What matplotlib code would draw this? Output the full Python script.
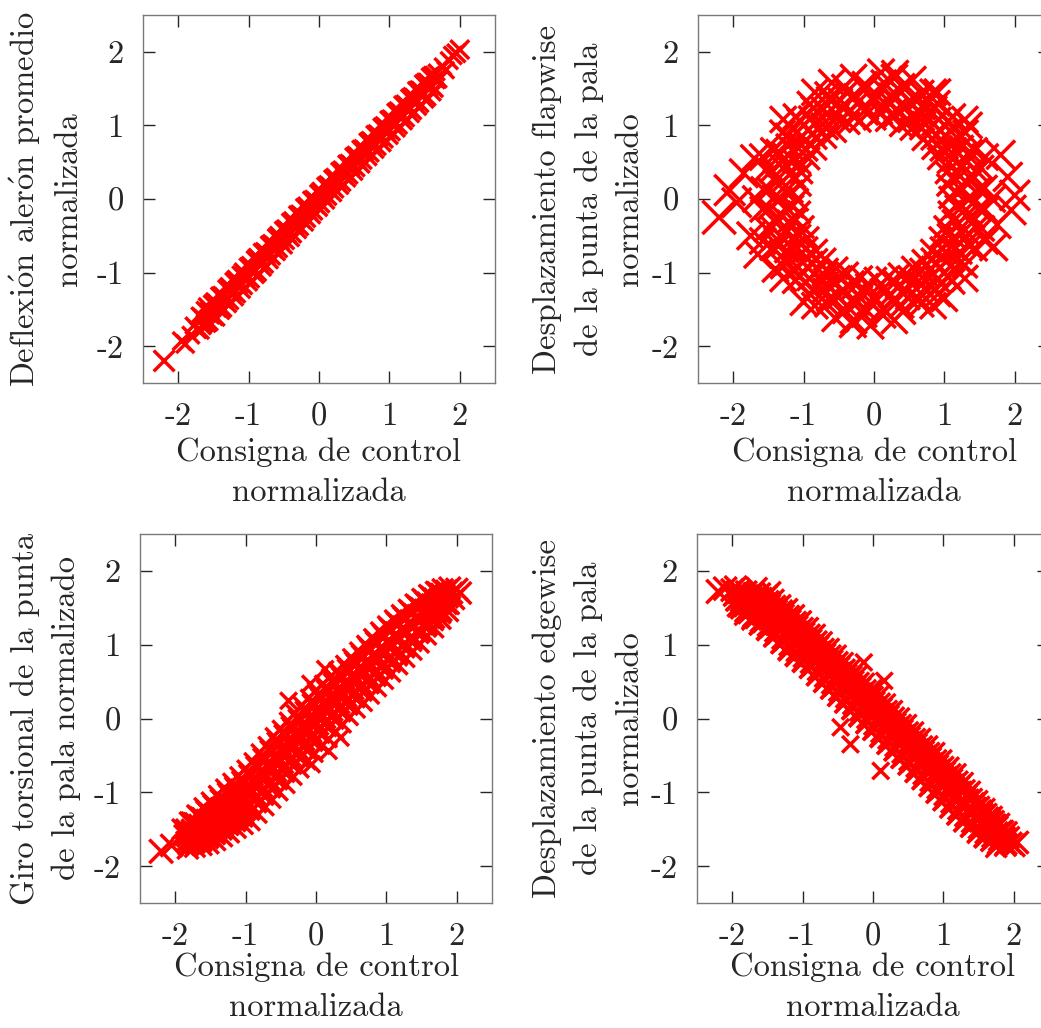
import numpy as np
import matplotlib
matplotlib.use("Agg")
import matplotlib.pyplot as plt

plt.rcParams["font.family"] = ["cmr10", "DejaVu Serif"]
plt.rcParams["mathtext.fontset"] = "cm"
plt.rcParams["axes.unicode_minus"] = False

# ---- axis ticks -------------------------------------------------------------
tick_values = [-2, -1, 0, 1, 2]
tick_labels = ["-2", "-1", "0", "1", "2"]

x_label = "Consigna de control\nnormalizada"
y_labels = [
    "Deflexi$\\acute{\\rm o}$n aler$\\acute{\\rm o}$n promedio\nnormalizada",
    "Desplazamiento flapwise\nde la punta de la pala\nnormalizado",
    "Giro torsional de la punta\nde la pala normalizado",
    "Desplazamiento edgewise\nde la punta de la pala\nnormalizado",
]

# ---- samples: (control, response) ------------------------------------------
aileron_pts = [
    (-2.20, -2.20), (-1.95, -1.93), (-1.90, -1.97), (-1.82, -1.85), (-1.78, -1.72),
    (-1.72, -1.78), (2.00, 2.03), (1.95, 1.98), (1.90, 1.95), (1.85, 1.88),
    (1.80, 1.75), (1.76, 1.80),
    (-1.70, -1.58), (-1.68, -1.79), (-1.65, -1.73), (-1.63, -1.50), (-1.60, -1.45),
    (-1.58, -1.70), (-1.55, -1.68), (-1.53, -1.41), (-1.50, -1.38), (-1.48, -1.61),
    (-1.45, -1.62), (-1.43, -1.30), (-1.40, -1.29), (-1.38, -1.53), (-1.35, -1.50),
    (-1.33, -1.20), (-1.30, -1.17), (-1.28, -1.44), (-1.25, -1.40), (-1.23, -1.10),
    (-1.20, -1.07), (-1.18, -1.35), (-1.15, -1.31), (-1.13, -1.01), (-1.10, -0.97),
    (-1.08, -1.25), (-1.05, -1.20), (-1.03, -0.90), (-1.00, -0.88), (-0.98, -1.15),
    (-0.95, -1.11), (-0.93, -0.80), (-0.90, -0.77), (-0.88, -1.05), (-0.85, -1.02),
    (-0.83, -0.70), (-0.80, -0.69), (-0.78, -0.95), (-0.75, -0.91), (-0.73, -0.60),
    (-0.70, -0.58), (-0.68, -0.85), (-0.65, -0.80), (-0.63, -0.50), (-0.60, -0.47),
    (-0.58, -0.74), (-0.55, -0.70), (-0.53, -0.40), (-0.50, -0.38), (-0.48, -0.65),
    (-0.45, -0.59), (-0.43, -0.29), (-0.40, -0.27), (-0.38, -0.55), (-0.35, -0.50),
    (-0.33, -0.19), (-0.30, -0.18), (-0.28, -0.44), (-0.25, -0.40), (-0.23, -0.09),
    (-0.20, -0.07), (-0.18, -0.34), (-0.15, -0.29), (-0.13, 0.01), (-0.10, 0.02),
    (-0.08, -0.24), (-0.05, -0.19), (-0.03, 0.10), (0.00, 0.13), (0.02, -0.14),
    (0.05, -0.09), (0.07, 0.20), (0.10, 0.22), (0.12, -0.04), (0.15, 0.01),
    (0.17, 0.30), (0.20, 0.32), (0.22, 0.06), (0.25, 0.11), (0.27, 0.40),
    (0.30, 0.42), (0.32, 0.16), (0.35, 0.20), (0.37, 0.50), (0.40, 0.51),
    (0.42, 0.26), (0.45, 0.30), (0.47, 0.60), (0.50, 0.62), (0.52, 0.35),
    (0.55, 0.40), (0.57, 0.70), (0.60, 0.71), (0.62, 0.45), (0.65, 0.50),
    (0.67, 0.80), (0.70, 0.82), (0.72, 0.55), (0.75, 0.60), (0.77, 0.90),
    (0.80, 0.91), (0.82, 0.65), (0.85, 0.69), (0.87, 1.00), (0.90, 1.02),
    (0.92, 0.74), (0.95, 0.79), (0.97, 1.10), (1.00, 1.11), (1.02, 0.84),
    (1.05, 0.89), (1.07, 1.20), (1.10, 1.22), (1.12, 0.94), (1.15, 0.98),
    (1.17, 1.30), (1.20, 1.31), (1.22, 1.04), (1.25, 1.08), (1.27, 1.39),
    (1.30, 1.41), (1.32, 1.14), (1.35, 1.18), (1.37, 1.49), (1.40, 1.50),
    (1.42, 1.24), (1.45, 1.28), (1.47, 1.58), (1.50, 1.60), (1.52, 1.34),
    (1.55, 1.37), (1.57, 1.67), (1.60, 1.69), (1.62, 1.44), (1.65, 1.49),
    (1.67, 1.72), (1.70, 1.62),
    (-1.65, -1.62), (-1.55, -1.57), (-1.45, -1.43), (-1.35, -1.38), (-1.25, -1.22),
    (-1.15, -1.17), (-1.05, -1.03), (-0.95, -0.98), (-0.85, -0.84), (-0.75, -0.77),
    (-0.65, -0.62), (-0.55, -0.57), (-0.45, -0.43), (-0.35, -0.36), (-0.25, -0.22),
    (-0.15, -0.16), (-0.05, -0.03), (0.05, 0.04), (0.15, 0.17), (0.25, 0.24),
    (0.35, 0.37), (0.45, 0.44), (0.55, 0.57), (0.65, 0.64), (0.75, 0.77),
    (0.85, 0.84), (0.95, 0.97), (1.05, 1.04), (1.15, 1.17), (1.25, 1.24),
    (1.35, 1.37), (1.45, 1.44), (1.55, 1.57), (1.65, 1.63),
    (-1.675, -1.60), (-1.575, -1.51), (-1.475, -1.40), (-1.375, -1.31), (-1.275, -1.20),
    (-1.175, -1.11), (-1.075, -1.00), (-0.975, -0.91), (-0.875, -0.80), (-0.775, -0.71),
    (-0.675, -0.60), (-0.575, -0.51), (-0.475, -0.40), (-0.375, -0.31), (-0.275, -0.20),
    (-0.175, -0.11), (-0.075, 0.00), (0.025, 0.09), (0.125, 0.20), (0.225, 0.29),
    (0.325, 0.40), (0.425, 0.49), (0.525, 0.60), (0.625, 0.69), (0.725, 0.80),
    (0.825, 0.89), (0.925, 1.00), (1.025, 1.09), (1.125, 1.20), (1.225, 1.29),
    (1.325, 1.40), (1.425, 1.49), (1.525, 1.60), (1.625, 1.69),
    (-1.625, -1.70), (-1.525, -1.59), (-1.425, -1.50), (-1.325, -1.39), (-1.225, -1.30),
    (-1.125, -1.19), (-1.025, -1.10), (-0.925, -0.99), (-0.825, -0.90), (-0.725, -0.79),
    (-0.625, -0.70), (-0.525, -0.59), (-0.425, -0.50), (-0.325, -0.39), (-0.225, -0.30),
    (-0.125, -0.19), (-0.025, -0.10), (0.075, 0.01), (0.175, 0.10), (0.275, 0.21),
    (0.375, 0.30), (0.475, 0.41), (0.575, 0.50), (0.675, 0.61), (0.775, 0.70),
    (0.875, 0.81), (0.975, 0.90), (1.075, 1.01), (1.175, 1.10), (1.275, 1.21),
    (1.375, 1.30), (1.475, 1.41), (1.575, 1.50), (1.675, 1.61),
]

flapwise_pts = [
    # inner part of the ring
    (1.08, 0.02), (1.05, 0.19), (1.03, 0.36), (0.92, 0.55), (0.84, 0.69),
    (0.70, 0.81), (0.53, 0.95), (0.38, 1.00), (0.18, 1.07), (0.01, 1.09),
    (-0.20, 1.06), (-0.36, 1.03), (-0.55, 0.92), (-0.69, 0.84), (-0.83, 0.68),
    (-0.93, 0.55), (-1.03, 0.36), (-1.05, 0.19), (-1.09, -0.01), (-1.06, -0.18),
    (-1.01, -0.38), (-0.94, -0.53), (-0.82, -0.70), (-0.70, -0.82), (-0.53, -0.94),
    (-0.38, -1.01), (-0.18, -1.06), (0.02, -1.08), (0.19, -1.07), (0.36, -1.02),
    (0.55, -0.93), (0.70, -0.84), (0.82, -0.70), (0.94, -0.53), (1.01, -0.38),
    (1.07, -0.18),
    (1.16, 0.10), (1.13, 0.30), (1.06, 0.50), (0.96, 0.67), (0.83, 0.82),
    (0.67, 0.96), (0.50, 1.06), (0.30, 1.13), (0.10, 1.17), (-0.10, 1.16),
    (-0.30, 1.13), (-0.49, 1.06), (-0.67, 0.96), (-0.83, 0.83), (-0.96, 0.67),
    (-1.06, 0.49), (-1.13, 0.30), (-1.17, 0.10), (-1.16, -0.10), (-1.13, -0.30),
    (-1.06, -0.50), (-0.96, -0.67), (-0.82, -0.83), (-0.67, -0.96), (-0.50, -1.06),
    (-0.30, -1.13), (-0.10, -1.17), (0.10, -1.16), (0.30, -1.13), (0.50, -1.06),
    (0.67, -0.96), (0.83, -0.82), (0.96, -0.67), (1.06, -0.49), (1.13, -0.30),
    (1.17, -0.10),
    (1.24, 0.12), (1.22, 0.31), (1.12, 0.54), (1.03, 0.70), (0.89, 0.87),
    (0.71, 1.03), (0.54, 1.12), (0.31, 1.21), (0.12, 1.26), (-0.10, 1.23),
    (-0.33, 1.20), (-0.52, 1.14), (-0.73, 1.01), (-0.87, 0.89), (-1.03, 0.73),
    (-1.14, 0.52), (-1.20, 0.33), (-1.26, 0.10), (-1.24, -0.12), (-1.21, -0.31),
    (-1.14, -0.52), (-1.02, -0.73), (-0.89, -0.87), (-0.71, -1.03), (-0.54, -1.14),
    (-0.31, -1.22), (-0.12, -1.25), (0.11, -1.24), (0.33, -1.20), (0.52, -1.14),
    (0.73, -1.02), (0.88, -0.89), (1.02, -0.72), (1.14, -0.52), (1.20, -0.33),
    (1.25, -0.10),
    (1.33, 0.00), (1.31, 0.23), (1.25, 0.46), (1.15, 0.67), (1.02, 0.85),
    (0.85, 1.02), (0.67, 1.15), (0.46, 1.25), (0.23, 1.31), (0.00, 1.33),
    (-0.23, 1.31), (-0.46, 1.25), (-0.67, 1.15), (-0.85, 1.02), (-1.02, 0.85),
    (-1.15, 0.67), (-1.25, 0.46), (-1.31, 0.23), (-1.33, 0.00), (-1.31, -0.23),
    (-1.25, -0.46), (-1.15, -0.67), (-1.02, -0.85), (-0.85, -1.02), (-0.67, -1.15),
    (-0.46, -1.25), (-0.23, -1.31), (0.00, -1.33), (0.23, -1.31), (0.46, -1.25),
    (0.67, -1.15), (0.85, -1.02), (1.02, -0.85), (1.15, -0.67), (1.25, -0.46),
    (1.31, -0.23),
    # outer part of the ring
    (1.43, -0.03), (1.39, 0.26), (1.32, 0.50), (1.24, 0.70), (1.08, 0.93),
    (0.92, 1.08), (0.70, 1.24), (0.50, 1.33), (0.24, 1.41), (0.03, 1.42),
    (-0.26, 1.40), (-0.48, 1.34), (-0.72, 1.22), (-0.90, 1.10), (-1.10, 0.90),
    (-1.22, 0.72), (-1.34, 0.47), (-1.40, 0.24), (-1.42, 0.02), (-1.39, -0.26),
    (-1.33, -0.50), (-1.24, -0.70), (-1.08, -0.93), (-0.92, -1.08), (-0.70, -1.24),
    (-0.50, -1.33), (-0.24, -1.41), (-0.02, -1.43), (0.26, -1.39), (0.48, -1.34),
    (0.72, -1.22), (0.90, -1.10), (1.10, -0.90), (1.22, -0.72), (1.34, -0.47),
    (1.40, -0.24),
    (1.49, 0.13), (1.45, 0.39), (1.36, 0.64), (1.23, 0.86), (1.06, 1.06),
    (0.86, 1.23), (0.64, 1.36), (0.39, 1.45), (0.13, 1.49), (-0.13, 1.49),
    (-0.39, 1.45), (-0.64, 1.36), (-0.86, 1.23), (-1.06, 1.06), (-1.23, 0.86),
    (-1.36, 0.64), (-1.45, 0.39), (-1.49, 0.13), (-1.49, -0.13), (-1.45, -0.39),
    (-1.36, -0.64), (-1.23, -0.86), (-1.06, -1.06), (-0.86, -1.23), (-0.64, -1.36),
    (-0.39, -1.45), (-0.13, -1.49), (0.13, -1.49), (0.39, -1.45), (0.64, -1.36),
    (0.86, -1.23), (1.06, -1.06), (1.23, -0.86), (1.36, -0.64), (1.45, -0.39),
    (1.49, -0.13),
    (1.57, 0.15), (1.52, 0.42), (1.43, 0.66), (1.30, 0.90), (1.12, 1.12),
    (0.90, 1.30), (0.67, 1.44), (0.40, 1.53), (0.14, 1.58), (-0.13, 1.56),
    (-0.42, 1.52), (-0.66, 1.42), (-0.91, 1.29), (-1.11, 1.12), (-1.30, 0.90),
    (-1.43, 0.66), (-1.52, 0.41), (-1.57, 0.13), (-1.58, -0.14), (-1.52, -0.41),
    (-1.44, -0.66), (-1.29, -0.91), (-1.12, -1.11), (-0.90, -1.30), (-0.66, -1.43),
    (-0.41, -1.52), (-0.14, -1.57), (0.13, -1.58), (0.41, -1.53), (0.67, -1.43),
    (0.91, -1.29), (1.11, -1.12), (1.29, -0.90), (1.43, -0.67), (1.53, -0.40),
    (1.57, -0.14),
    (1.68, 0.00), (1.58, 0.57), (1.29, 1.08), (0.84, 1.45), (0.29, 1.65),
    (-0.29, 1.65), (-0.84, 1.45), (-1.29, 1.08), (-1.58, 0.57), (-1.68, 0.00),
    (-1.58, -0.57), (-1.29, -1.08), (-0.84, -1.45), (-0.29, -1.65), (0.29, -1.65),
    (0.84, -1.45), (1.29, -1.08), (1.58, -0.57),
    # scattered edge points
    (-2.20, -0.25), (-2.05, 0.12), (-1.95, -0.05), (-1.85, 0.35), (-1.75, -0.50),
    (-1.70, 0.55), (-1.65, -0.75), (2.00, 0.05), (1.95, -0.15), (1.90, 0.30),
    (1.80, 0.60), (1.75, -0.35), (1.70, -0.65), (0.30, 1.70), (0.10, 1.72),
    (-0.30, -1.70), (-0.05, -1.72), (-0.60, 1.58), (0.90, 1.45), (-1.00, -1.40),
    (1.00, -1.35), (0.55, 1.62), (-0.55, -1.62), (1.35, 1.00), (-1.40, -0.95),
]

torsion_pts = [
    (-2.20, -1.80), (-2.05, -1.72), (2.00, 1.75), (2.05, 1.70),
    (0.13, 0.67), (-0.08, 0.47), (0.18, -0.44), (0.35, -0.26), (-0.06, -0.62),
    (-0.39, 0.24),
    (-1.90, -1.50), (-1.87, -1.58), (-1.84, -1.67), (-1.82, -1.76),
    (-1.80, -1.40), (-1.77, -1.50), (-1.74, -1.62), (-1.72, -1.74),
    (-1.70, -1.30), (-1.67, -1.43), (-1.64, -1.57), (-1.62, -1.72),
    (-1.60, -1.20), (-1.57, -1.36), (-1.54, -1.53), (-1.52, -1.70),
    (-1.50, -1.12), (-1.47, -1.29), (-1.44, -1.47), (-1.42, -1.66),
    (-1.40, -1.03), (-1.37, -1.22), (-1.34, -1.41), (-1.32, -1.61),
    (-1.30, -0.94), (-1.27, -1.14), (-1.24, -1.35), (-1.22, -1.56),
    (-1.20, -0.86), (-1.17, -1.06), (-1.14, -1.29), (-1.12, -1.50),
    (-1.10, -0.77), (-1.07, -0.99), (-1.04, -1.22), (-1.02, -1.45),
    (-1.00, -0.68), (-0.97, -0.91), (-0.94, -1.16), (-0.92, -1.40),
    (-0.90, -0.58), (-0.87, -0.80), (-0.84, -1.05), (-0.82, -1.30),
    (-0.80, -0.46), (-0.77, -0.70), (-0.74, -0.95), (-0.72, -1.20),
    (-0.70, -0.36), (-0.67, -0.60), (-0.64, -0.85), (-0.62, -1.10),
    (-0.60, -0.24), (-0.57, -0.49), (-0.54, -0.74), (-0.52, -1.00),
    (-0.50, -0.14), (-0.47, -0.38), (-0.44, -0.63), (-0.42, -0.90),
    (-0.40, -0.03), (-0.37, -0.27), (-0.34, -0.53), (-0.32, -0.79),
    (-0.30, 0.07), (-0.27, -0.17), (-0.24, -0.43), (-0.22, -0.69),
    (-0.20, 0.18), (-0.17, -0.06), (-0.14, -0.32), (-0.12, -0.58),
    (-0.10, 0.28), (-0.07, 0.04), (-0.04, -0.21), (-0.02, -0.48),
    (0.00, 0.38), (0.03, 0.14), (0.06, -0.11), (0.08, -0.37),
    (0.10, 0.47), (0.13, 0.24), (0.16, -0.02), (0.18, -0.28),
    (0.20, 0.56), (0.23, 0.33), (0.26, 0.08), (0.28, -0.18),
    (0.30, 0.65), (0.33, 0.42), (0.36, 0.18), (0.38, -0.08),
    (0.40, 0.74), (0.43, 0.51), (0.46, 0.27), (0.48, 0.02),
    (0.50, 0.83), (0.53, 0.60), (0.56, 0.37), (0.58, 0.12),
    (0.60, 0.92), (0.63, 0.70), (0.66, 0.46), (0.68, 0.21),
    (0.70, 1.01), (0.73, 0.79), (0.76, 0.56), (0.78, 0.31),
    (0.80, 1.10), (0.83, 0.88), (0.86, 0.65), (0.88, 0.41),
    (0.90, 1.19), (0.93, 0.97), (0.96, 0.75), (0.98, 0.51),
    (1.00, 1.27), (1.03, 1.06), (1.06, 0.84), (1.08, 0.61),
    (1.10, 1.35), (1.13, 1.14), (1.16, 0.93), (1.18, 0.71),
    (1.20, 1.42), (1.23, 1.22), (1.26, 1.02), (1.28, 0.81),
    (1.30, 1.49), (1.33, 1.30), (1.36, 1.11), (1.38, 0.91),
    (1.40, 1.56), (1.43, 1.38), (1.46, 1.20), (1.48, 1.01),
    (1.50, 1.63), (1.53, 1.46), (1.56, 1.29), (1.58, 1.12),
    (1.60, 1.68), (1.63, 1.53), (1.66, 1.38), (1.68, 1.22),
    (1.70, 1.72), (1.73, 1.60), (1.76, 1.47), (1.78, 1.34),
    (1.80, 1.75), (1.83, 1.66), (1.86, 1.55), (1.88, 1.45),
    (1.90, 1.77), (1.93, 1.70), (1.96, 1.62),
    (-1.85, -1.50), (-1.83, -1.60), (-1.81, -1.71),
    (-1.75, -1.41), (-1.73, -1.54), (-1.71, -1.67),
    (-1.65, -1.33), (-1.63, -1.49), (-1.61, -1.64),
    (-1.55, -1.26), (-1.53, -1.43), (-1.51, -1.60),
    (-1.45, -1.18), (-1.43, -1.37), (-1.41, -1.55),
    (-1.35, -1.10), (-1.33, -1.30), (-1.31, -1.49),
    (-1.25, -1.02), (-1.23, -1.23), (-1.21, -1.43),
    (-1.15, -0.94), (-1.13, -1.16), (-1.11, -1.37),
    (-1.05, -0.86), (-1.03, -1.09), (-1.01, -1.31),
    (-0.95, -0.76), (-0.93, -1.00), (-0.91, -1.24),
    (-0.85, -0.65), (-0.83, -0.89), (-0.81, -1.14),
    (-0.75, -0.54), (-0.73, -0.79), (-0.71, -1.03),
    (-0.65, -0.43), (-0.63, -0.68), (-0.61, -0.93),
    (-0.55, -0.33), (-0.53, -0.58), (-0.51, -0.83),
    (-0.45, -0.22), (-0.43, -0.47), (-0.41, -0.72),
    (-0.35, -0.12), (-0.33, -0.37), (-0.31, -0.62),
    (-0.25, -0.01), (-0.23, -0.26), (-0.21, -0.51),
    (-0.15, 0.09), (-0.13, -0.16), (-0.11, -0.41),
    (-0.05, 0.20), (-0.03, -0.05), (-0.01, -0.30),
    (0.05, 0.29), (0.07, 0.05), (0.09, -0.20),
    (0.15, 0.39), (0.17, 0.14), (0.19, -0.10),
    (0.25, 0.48), (0.27, 0.24), (0.29, 0.00),
    (0.35, 0.57), (0.37, 0.33), (0.39, 0.09),
    (0.45, 0.67), (0.47, 0.43), (0.49, 0.19),
    (0.55, 0.76), (0.57, 0.52), (0.59, 0.28),
    (0.65, 0.86), (0.67, 0.62), (0.69, 0.38),
    (0.75, 0.95), (0.77, 0.71), (0.79, 0.48),
    (0.85, 1.04), (0.87, 0.81), (0.89, 0.57),
    (0.95, 1.13), (0.97, 0.90), (0.99, 0.67),
    (1.05, 1.22), (1.07, 0.99), (1.09, 0.77),
    (1.15, 1.30), (1.17, 1.08), (1.19, 0.86),
    (1.25, 1.37), (1.27, 1.17), (1.29, 0.96),
    (1.35, 1.44), (1.37, 1.25), (1.39, 1.06),
    (1.45, 1.52), (1.47, 1.34), (1.49, 1.16),
    (1.55, 1.58), (1.57, 1.42), (1.59, 1.25),
    (1.65, 1.64), (1.67, 1.49), (1.69, 1.35),
    (1.75, 1.69), (1.77, 1.57), (1.79, 1.45),
    (1.85, 1.73), (1.87, 1.64), (1.89, 1.55),
    (-1.775, -1.40), (-1.775, -1.53), (-1.775, -1.66),
    (-1.725, -1.41), (-1.725, -1.55), (-1.725, -1.69),
    (-1.675, -1.32), (-1.675, -1.47), (-1.675, -1.62),
    (-1.625, -1.34), (-1.625, -1.50), (-1.625, -1.67),
    (-1.575, -1.24), (-1.575, -1.41), (-1.575, -1.58),
    (-1.525, -1.27), (-1.525, -1.45), (-1.525, -1.63),
    (-1.475, -1.16), (-1.475, -1.35), (-1.475, -1.53),
    (-1.425, -1.20), (-1.425, -1.39), (-1.425, -1.58),
    (-1.375, -1.08), (-1.375, -1.27), (-1.375, -1.47),
    (-1.325, -1.12), (-1.325, -1.32), (-1.325, -1.52),
    (-1.275, -0.99), (-1.275, -1.20), (-1.275, -1.41),
    (-1.225, -1.04), (-1.225, -1.25), (-1.225, -1.46),
    (-1.175, -0.91), (-1.175, -1.13), (-1.175, -1.35),
    (-1.125, -0.96), (-1.125, -1.18), (-1.125, -1.41),
    (-1.075, -0.83), (-1.075, -1.06), (-1.075, -1.29),
    (-1.025, -0.88), (-1.025, -1.12), (-1.025, -1.35),
    (-0.975, -0.74), (-0.975, -0.98), (-0.975, -1.22),
    (-0.925, -0.78), (-0.925, -1.02), (-0.925, -1.26),
    (-0.875, -0.63), (-0.875, -0.87), (-0.875, -1.11),
    (-0.825, -0.67), (-0.825, -0.92), (-0.825, -1.16),
    (-0.775, -0.52), (-0.775, -0.76), (-0.775, -1.01),
    (-0.725, -0.56), (-0.725, -0.81), (-0.725, -1.06),
    (-0.675, -0.41), (-0.675, -0.66), (-0.675, -0.91),
    (-0.625, -0.46), (-0.625, -0.71), (-0.625, -0.96),
    (-0.575, -0.30), (-0.575, -0.55), (-0.575, -0.81),
    (-0.525, -0.35), (-0.525, -0.60), (-0.525, -0.85),
    (-0.475, -0.20), (-0.475, -0.45), (-0.475, -0.70),
    (-0.425, -0.24), (-0.425, -0.50), (-0.425, -0.75),
    (-0.375, -0.09), (-0.375, -0.34), (-0.375, -0.59),
    (-0.325, -0.14), (-0.325, -0.39), (-0.325, -0.64),
    (-0.275, 0.01), (-0.275, -0.24), (-0.275, -0.49),
    (-0.225, -0.03), (-0.225, -0.29), (-0.225, -0.54),
    (-0.175, 0.12), (-0.175, -0.13), (-0.175, -0.39),
    (-0.125, 0.07), (-0.125, -0.18), (-0.125, -0.43),
    (-0.075, 0.22), (-0.075, -0.03), (-0.075, -0.28),
    (-0.025, 0.17), (-0.025, -0.08), (-0.025, -0.33),
    (0.025, 0.32), (0.025, 0.07), (0.025, -0.17),
    (0.075, 0.27), (0.075, 0.02), (0.075, -0.22),
    (0.125, 0.41), (0.125, 0.17), (0.125, -0.08),
    (0.175, 0.36), (0.175, 0.12), (0.175, -0.13),
    (0.225, 0.50), (0.225, 0.26), (0.225, 0.02),
    (0.275, 0.45), (0.275, 0.21), (0.275, -0.03),
    (0.325, 0.60), (0.325, 0.36), (0.325, 0.12),
    (0.375, 0.55), (0.375, 0.31), (0.375, 0.07),
    (0.425, 0.69), (0.425, 0.45), (0.425, 0.21),
    (0.475, 0.64), (0.475, 0.40), (0.475, 0.16),
    (0.525, 0.79), (0.525, 0.55), (0.525, 0.31),
    (0.575, 0.74), (0.575, 0.50), (0.575, 0.26),
    (0.625, 0.88), (0.625, 0.64), (0.625, 0.40),
    (0.675, 0.83), (0.675, 0.59), (0.675, 0.35),
    (0.725, 0.98), (0.725, 0.74), (0.725, 0.50),
    (0.775, 0.93), (0.775, 0.69), (0.775, 0.45),
    (0.825, 1.06), (0.825, 0.83), (0.825, 0.60),
    (0.875, 1.02), (0.875, 0.78), (0.875, 0.55),
    (0.925, 1.16), (0.925, 0.93), (0.925, 0.69),
    (0.975, 1.11), (0.975, 0.88), (0.975, 0.65),
    (1.025, 1.24), (1.025, 1.02), (1.025, 0.79),
    (1.075, 1.20), (1.075, 0.97), (1.075, 0.74),
    (1.125, 1.32), (1.125, 1.10), (1.125, 0.88),
    (1.175, 1.28), (1.175, 1.06), (1.175, 0.83),
    (1.225, 1.39), (1.225, 1.19), (1.225, 0.98),
    (1.275, 1.35), (1.275, 1.15), (1.275, 0.94),
    (1.325, 1.47), (1.325, 1.27), (1.325, 1.07),
    (1.375, 1.43), (1.375, 1.23), (1.375, 1.03),
    (1.425, 1.54), (1.425, 1.35), (1.425, 1.17),
    (1.475, 1.51), (1.475, 1.32), (1.475, 1.14),
    (1.525, 1.61), (1.525, 1.43), (1.525, 1.26),
    (1.575, 1.58), (1.575, 1.40), (1.575, 1.23),
    (1.625, 1.66), (1.625, 1.50), (1.625, 1.35),
    (1.675, 1.63), (1.675, 1.48), (1.675, 1.32),
    (1.725, 1.71), (1.725, 1.57), (1.725, 1.44),
    (1.775, 1.69), (1.775, 1.56), (1.775, 1.42),
]

edgewise_pts = [
    (-2.20, 1.72), (-2.10, 1.76), (-1.95, 1.78), (-1.65, 1.77), (-1.45, 1.72),
    (2.00, -1.72), (2.05, -1.68), (1.75, -1.74),
    (0.16, 0.51), (-0.13, 0.76), (-0.32, -0.35), (0.11, -0.71), (-0.46, -0.12),
    (-2.00, 1.74), (-1.97, 1.67), (-1.94, 1.60), (-1.92, 1.52),
    (-1.90, 1.73), (-1.87, 1.63), (-1.84, 1.53), (-1.82, 1.44),
    (-1.80, 1.72), (-1.77, 1.59), (-1.74, 1.46), (-1.72, 1.35),
    (-1.70, 1.70), (-1.67, 1.55), (-1.64, 1.41), (-1.62, 1.26),
    (-1.60, 1.70), (-1.57, 1.52), (-1.54, 1.35), (-1.52, 1.18),
    (-1.50, 1.67), (-1.47, 1.48), (-1.44, 1.29), (-1.42, 1.10),
    (-1.40, 1.62), (-1.37, 1.41), (-1.34, 1.21), (-1.32, 1.00),
    (-1.30, 1.55), (-1.27, 1.34), (-1.24, 1.12), (-1.22, 0.90),
    (-1.20, 1.50), (-1.17, 1.27), (-1.14, 1.04), (-1.12, 0.82),
    (-1.10, 1.42), (-1.07, 1.19), (-1.04, 0.96), (-1.02, 0.74),
    (-1.00, 1.34), (-0.97, 1.11), (-0.94, 0.88), (-0.92, 0.66),
    (-0.90, 1.25), (-0.87, 1.02), (-0.84, 0.79), (-0.82, 0.56),
    (-0.80, 1.16), (-0.77, 0.93), (-0.74, 0.70), (-0.72, 0.47),
    (-0.70, 1.06), (-0.67, 0.83), (-0.64, 0.60), (-0.62, 0.38),
    (-0.60, 0.97), (-0.57, 0.74), (-0.54, 0.51), (-0.52, 0.28),
    (-0.50, 0.88), (-0.47, 0.65), (-0.44, 0.42), (-0.42, 0.19),
    (-0.40, 0.78), (-0.37, 0.55), (-0.34, 0.32), (-0.32, 0.10),
    (-0.30, 0.69), (-0.27, 0.46), (-0.24, 0.23), (-0.22, 0.00),
    (-0.20, 0.60), (-0.17, 0.37), (-0.14, 0.14), (-0.12, -0.09),
    (-0.10, 0.50), (-0.07, 0.28), (-0.04, 0.05), (-0.02, -0.18),
    (0.00, 0.41), (0.03, 0.18), (0.06, -0.05), (0.08, -0.28),
    (0.10, 0.32), (0.13, 0.09), (0.16, -0.14), (0.18, -0.37),
    (0.20, 0.22), (0.23, -0.01), (0.26, -0.24), (0.28, -0.46),
    (0.30, 0.13), (0.33, -0.10), (0.36, -0.33), (0.38, -0.56),
    (0.40, 0.03), (0.43, -0.20), (0.46, -0.43), (0.48, -0.65),
    (0.50, -0.06), (0.53, -0.29), (0.56, -0.52), (0.58, -0.75),
    (0.60, -0.16), (0.63, -0.39), (0.66, -0.62), (0.68, -0.84),
    (0.70, -0.25), (0.73, -0.48), (0.76, -0.71), (0.78, -0.94),
    (0.80, -0.35), (0.83, -0.58), (0.86, -0.81), (0.88, -1.03),
    (0.90, -0.44), (0.93, -0.67), (0.96, -0.90), (0.98, -1.13),
    (1.00, -0.54), (1.03, -0.77), (1.06, -1.00), (1.08, -1.22),
    (1.10, -0.64), (1.13, -0.86), (1.16, -1.09), (1.18, -1.32),
    (1.20, -0.73), (1.23, -0.96), (1.26, -1.19), (1.28, -1.41),
    (1.30, -0.85), (1.33, -1.06), (1.36, -1.27), (1.38, -1.48),
    (1.40, -0.97), (1.43, -1.16), (1.46, -1.36), (1.48, -1.55),
    (1.50, -1.10), (1.53, -1.27), (1.56, -1.45), (1.58, -1.62),
    (1.60, -1.21), (1.63, -1.36), (1.66, -1.51), (1.68, -1.66),
    (1.70, -1.32), (1.73, -1.44), (1.76, -1.57), (1.78, -1.69),
    (1.80, -1.42), (1.83, -1.52), (1.86, -1.62), (1.88, -1.72),
    (1.90, -1.54), (1.93, -1.61), (1.96, -1.69),
    (-1.95, 1.69), (-1.93, 1.61), (-1.91, 1.52),
    (-1.85, 1.66), (-1.83, 1.56), (-1.81, 1.45),
    (-1.75, 1.64), (-1.73, 1.51), (-1.71, 1.37),
    (-1.65, 1.62), (-1.63, 1.46), (-1.61, 1.30),
    (-1.55, 1.59), (-1.53, 1.42), (-1.51, 1.24),
    (-1.45, 1.55), (-1.43, 1.35), (-1.41, 1.16),
    (-1.35, 1.48), (-1.33, 1.27), (-1.31, 1.06),
    (-1.25, 1.42), (-1.23, 1.20), (-1.21, 0.97),
    (-1.15, 1.35), (-1.13, 1.12), (-1.11, 0.89),
    (-1.05, 1.27), (-1.03, 1.04), (-1.01, 0.81),
    (-0.95, 1.18), (-0.93, 0.95), (-0.91, 0.73),
    (-0.85, 1.09), (-0.83, 0.86), (-0.81, 0.63),
    (-0.75, 1.00), (-0.73, 0.77), (-0.71, 0.54),
    (-0.65, 0.90), (-0.63, 0.68), (-0.61, 0.45),
    (-0.55, 0.81), (-0.53, 0.58), (-0.51, 0.35),
    (-0.45, 0.72), (-0.43, 0.49), (-0.41, 0.26),
    (-0.35, 0.62), (-0.33, 0.40), (-0.31, 0.17),
    (-0.25, 0.53), (-0.23, 0.30), (-0.21, 0.08),
    (-0.15, 0.44), (-0.13, 0.21), (-0.11, -0.02),
    (-0.05, 0.35), (-0.03, 0.12), (-0.01, -0.11),
    (0.05, 0.25), (0.07, 0.02), (0.09, -0.21),
    (0.15, 0.16), (0.17, -0.07), (0.19, -0.30),
    (0.25, 0.06), (0.27, -0.17), (0.29, -0.40),
    (0.35, -0.04), (0.37, -0.26), (0.39, -0.49),
    (0.45, -0.13), (0.47, -0.36), (0.49, -0.59),
    (0.55, -0.23), (0.57, -0.45), (0.59, -0.68),
    (0.65, -0.32), (0.67, -0.55), (0.69, -0.78),
    (0.75, -0.42), (0.77, -0.64), (0.79, -0.87),
    (0.85, -0.51), (0.87, -0.74), (0.89, -0.97),
    (0.95, -0.61), (0.97, -0.83), (0.99, -1.06),
    (1.05, -0.70), (1.07, -0.93), (1.09, -1.16),
    (1.15, -0.80), (1.17, -1.02), (1.19, -1.25),
    (1.25, -0.90), (1.27, -1.12), (1.29, -1.34),
    (1.35, -1.02), (1.37, -1.22), (1.39, -1.42),
    (1.45, -1.13), (1.47, -1.31), (1.49, -1.50),
    (1.55, -1.23), (1.57, -1.40), (1.59, -1.56),
    (1.65, -1.33), (1.67, -1.47), (1.69, -1.61),
    (1.75, -1.43), (1.77, -1.54), (1.79, -1.65),
    (1.85, -1.52), (1.87, -1.61), (1.89, -1.70),
    (-1.875, 1.69), (-1.875, 1.59), (-1.875, 1.49),
    (-1.825, 1.63), (-1.825, 1.52), (-1.825, 1.40),
    (-1.775, 1.67), (-1.775, 1.54), (-1.775, 1.42),
    (-1.725, 1.60), (-1.725, 1.47), (-1.725, 1.33),
    (-1.675, 1.65), (-1.675, 1.50), (-1.675, 1.35),
    (-1.625, 1.58), (-1.625, 1.42), (-1.625, 1.26),
    (-1.575, 1.64), (-1.575, 1.46), (-1.575, 1.29),
    (-1.525, 1.55), (-1.525, 1.37), (-1.525, 1.19),
    (-1.475, 1.60), (-1.475, 1.41), (-1.475, 1.22),
    (-1.425, 1.49), (-1.425, 1.29), (-1.425, 1.09),
    (-1.375, 1.54), (-1.375, 1.33), (-1.375, 1.13),
    (-1.325, 1.42), (-1.325, 1.21), (-1.325, 1.00),
    (-1.275, 1.48), (-1.275, 1.26), (-1.275, 1.04),
    (-1.225, 1.36), (-1.225, 1.13), (-1.225, 0.91),
    (-1.175, 1.41), (-1.175, 1.19), (-1.175, 0.96),
    (-1.125, 1.28), (-1.125, 1.05), (-1.125, 0.83),
    (-1.075, 1.33), (-1.075, 1.11), (-1.075, 0.88),
    (-1.025, 1.20), (-1.025, 0.97), (-1.025, 0.75),
    (-0.975, 1.25), (-0.975, 1.02), (-0.975, 0.80),
    (-0.925, 1.11), (-0.925, 0.88), (-0.925, 0.66),
    (-0.875, 1.16), (-0.875, 0.93), (-0.875, 0.70),
    (-0.825, 1.02), (-0.825, 0.79), (-0.825, 0.56),
    (-0.775, 1.07), (-0.775, 0.84), (-0.775, 0.61),
    (-0.725, 0.93), (-0.725, 0.70), (-0.725, 0.47),
    (-0.675, 0.97), (-0.675, 0.74), (-0.675, 0.52),
    (-0.625, 0.83), (-0.625, 0.61), (-0.625, 0.38),
    (-0.575, 0.88), (-0.575, 0.65), (-0.575, 0.42),
    (-0.525, 0.74), (-0.525, 0.51), (-0.525, 0.28),
    (-0.475, 0.79), (-0.475, 0.56), (-0.475, 0.33),
    (-0.425, 0.65), (-0.425, 0.42), (-0.425, 0.19),
    (-0.375, 0.69), (-0.375, 0.47), (-0.375, 0.24),
    (-0.325, 0.55), (-0.325, 0.33), (-0.325, 0.10),
    (-0.275, 0.60), (-0.275, 0.37), (-0.275, 0.14),
    (-0.225, 0.46), (-0.225, 0.23), (-0.225, 0.01),
    (-0.175, 0.51), (-0.175, 0.28), (-0.175, 0.05),
    (-0.125, 0.37), (-0.125, 0.14), (-0.125, -0.09),
    (-0.075, 0.41), (-0.075, 0.19), (-0.075, -0.04),
    (-0.025, 0.28), (-0.025, 0.05), (-0.025, -0.18),
    (0.025, 0.32), (0.025, 0.09), (0.025, -0.14),
    (0.075, 0.18), (0.075, -0.05), (0.075, -0.27),
    (0.125, 0.23), (0.125, 0.00), (0.125, -0.23),
    (0.175, 0.09), (0.175, -0.14), (0.175, -0.37),
    (0.225, 0.13), (0.225, -0.10), (0.225, -0.33),
    (0.275, -0.01), (0.275, -0.24), (0.275, -0.46),
    (0.325, 0.04), (0.325, -0.19), (0.325, -0.42),
    (0.375, -0.10), (0.375, -0.33), (0.375, -0.56),
    (0.425, -0.06), (0.425, -0.29), (0.425, -0.52),
    (0.475, -0.20), (0.475, -0.43), (0.475, -0.65),
    (0.525, -0.16), (0.525, -0.38), (0.525, -0.61),
    (0.575, -0.29), (0.575, -0.52), (0.575, -0.75),
    (0.625, -0.25), (0.625, -0.48), (0.625, -0.71),
    (0.675, -0.39), (0.675, -0.62), (0.675, -0.85),
    (0.725, -0.35), (0.725, -0.57), (0.725, -0.80),
    (0.775, -0.48), (0.775, -0.71), (0.775, -0.94),
    (0.825, -0.44), (0.825, -0.67), (0.825, -0.90),
    (0.875, -0.58), (0.875, -0.81), (0.875, -1.03),
    (0.925, -0.54), (0.925, -0.76), (0.925, -0.99),
    (0.975, -0.67), (0.975, -0.90), (0.975, -1.13),
    (1.025, -0.63), (1.025, -0.86), (1.025, -1.09),
    (1.075, -0.77), (1.075, -1.00), (1.075, -1.23),
    (1.125, -0.73), (1.125, -0.95), (1.125, -1.18),
    (1.175, -0.87), (1.175, -1.09), (1.175, -1.32),
    (1.225, -0.83), (1.225, -1.05), (1.225, -1.27),
    (1.275, -0.97), (1.275, -1.19), (1.275, -1.41),
    (1.325, -0.95), (1.325, -1.15), (1.325, -1.36),
    (1.375, -1.08), (1.375, -1.28), (1.375, -1.48),
    (1.425, -1.07), (1.425, -1.25), (1.425, -1.44),
    (1.475, -1.19), (1.475, -1.37), (1.475, -1.56),
    (1.525, -1.18), (1.525, -1.34), (1.525, -1.51),
    (1.575, -1.28), (1.575, -1.45), (1.575, -1.61),
    (1.625, -1.28), (1.625, -1.42), (1.625, -1.57),
    (1.675, -1.37), (1.675, -1.52), (1.675, -1.66),
    (1.725, -1.38), (1.725, -1.50), (1.725, -1.62),
    (1.775, -1.46), (1.775, -1.58), (1.775, -1.70),
]

# ---- figure -----------------------------------------------------------------
W, H = 1041, 1028
fig = plt.figure(figsize=(W / 100, H / 100), dpi=100)

# axes boxes in pixels: left, top, width, height
boxes = [(143, 15, 352, 368), (698, 15, 352, 368),
         (140, 534, 352, 369), (697, 534, 352, 369)]
# marker size (points): lo + (hi - lo) * (r / r_max) ** p, r = distance from origin
size_rules = [(10.0, 15.0, 4), (15.0, 24.0, 3), (12.0, 17.0, 4), (12.0, 17.0, 4)]
x_labelpads = [4.0, 4.0, 0.5, 0.5]
y_label_x = [-0.170, -0.153, -0.168, -0.151]
datasets = [aileron_pts, flapwise_pts, torsion_pts, edgewise_pts]

TXT = "#262626"
FS = 23.5

for pts, ylab, (l, t, w, h), (lo, hi, p), lp, yx in zip(
        datasets, y_labels, boxes, size_rules, x_labelpads, y_label_x):
    ax = fig.add_axes([l / W, (H - t - h) / H, w / W, h / H])
    xy = np.array(pts)
    r = np.hypot(xy[:, 0], xy[:, 1])
    ms = lo + (hi - lo) * (r / r.max()) ** p
    ax.scatter(xy[:, 0], xy[:, 1], s=ms ** 2, marker="x", color="#ff0000",
               linewidths=2.5, clip_on=False)
    ax.set_xlim(-2.5, 2.5)
    ax.set_ylim(-2.5, 2.5)
    ax.set_xticks(tick_values, tick_labels)
    ax.set_yticks(tick_values, tick_labels)
    ax.tick_params(direction="in", top=True, right=True, length=8.5, width=1.0,
                   color=TXT, labelcolor=TXT, labelsize=FS, pad=14)
    for sp in ax.spines.values():
        sp.set_color("#7a7a7a")
        sp.set_linewidth(1.0)
    ax.set_xlabel(x_label, fontsize=FS, color=TXT, linespacing=1.5, labelpad=lp)
    ax.set_ylabel(ylab, fontsize=FS, color=TXT, linespacing=1.5)
    ax.yaxis.set_label_coords(yx, 0.5)

fig.savefig("out.png", dpi=100)
